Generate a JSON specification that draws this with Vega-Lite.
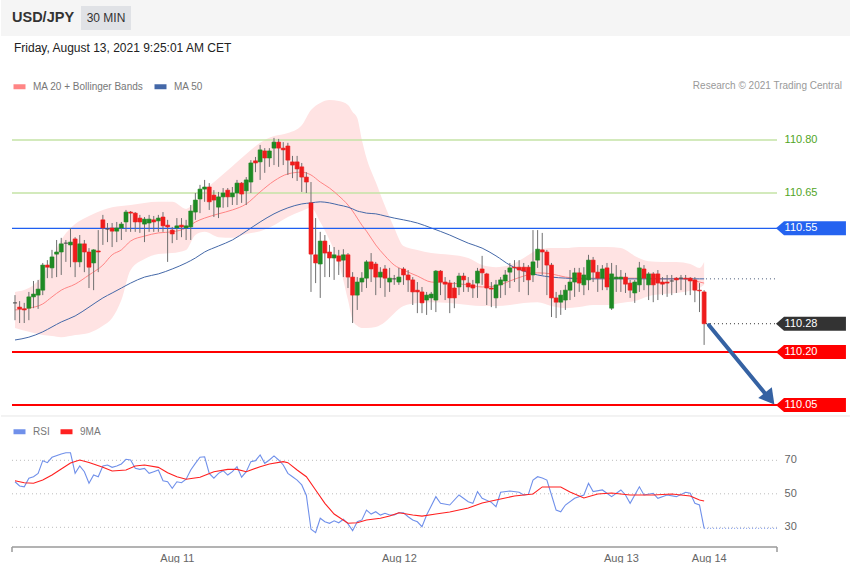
{
"$schema":"https://vega.github.io/schema/vega-lite/v6.json",
"padding":0,
"background":"white",
"spacing":0,
"config":{"view":{"stroke":null},"font":"Liberation Sans","scale":{"continuousPadding":0}},
"resolve":{"scale":{"x":"independent","y":"independent","color":"independent"},"legend":{"color":"independent"}},
"datasets":{
"header":[{"pair":"USD/JPY","tf":"30 MIN"}],
"notes":[{"date":"Friday, August 13, 2021 9:25:01 AM CET","credit":"Research © 2021 Trading Central"}],
"one":[{}],
"levels":[{"level":110.80,"kind":"resistance"},{"level":110.65,"kind":"resistance"},{"level":110.55,"kind":"pivot"},{"level":110.28,"kind":"last"},{"level":110.20,"kind":"support"},{"level":110.05,"kind":"support"},{"level":110.407,"kind":"ma"}],
"rsiLevels":[{"level":70},{"level":50},{"level":30}],
"candles":[
{"i":0,"o":110.339,"h":110.361,"l":110.290,"c":110.339},
{"i":1,"o":110.327,"h":110.344,"l":110.282,"c":110.322},
{"i":2,"o":110.322,"h":110.339,"l":110.282,"c":110.319},
{"i":3,"o":110.324,"h":110.370,"l":110.290,"c":110.356},
{"i":4,"o":110.356,"h":110.401,"l":110.324,"c":110.364},
{"i":5,"o":110.361,"h":110.404,"l":110.322,"c":110.378},
{"i":6,"o":110.375,"h":110.452,"l":110.361,"c":110.446},
{"i":7,"o":110.446,"h":110.460,"l":110.409,"c":110.440},
{"i":8,"o":110.438,"h":110.489,"l":110.409,"c":110.469},
{"i":9,"o":110.477,"h":110.517,"l":110.412,"c":110.483},
{"i":10,"o":110.483,"h":110.523,"l":110.418,"c":110.506},
{"i":11,"o":110.508,"h":110.517,"l":110.455,"c":110.508},
{"i":12,"o":110.503,"h":110.551,"l":110.440,"c":110.511},
{"i":13,"o":110.520,"h":110.525,"l":110.412,"c":110.455},
{"i":14,"o":110.455,"h":110.531,"l":110.440,"c":110.506},
{"i":15,"o":110.506,"h":110.517,"l":110.426,"c":110.483},
{"i":16,"o":110.483,"h":110.494,"l":110.381,"c":110.440},
{"i":17,"o":110.452,"h":110.491,"l":110.375,"c":110.489},
{"i":18,"o":110.486,"h":110.545,"l":110.426,"c":110.483},
{"i":19,"o":110.574,"h":110.588,"l":110.503,"c":110.551},
{"i":20,"o":110.548,"h":110.565,"l":110.511,"c":110.548},
{"i":21,"o":110.551,"h":110.565,"l":110.497,"c":110.542},
{"i":22,"o":110.542,"h":110.568,"l":110.511,"c":110.551},
{"i":23,"o":110.551,"h":110.568,"l":110.517,"c":110.562},
{"i":24,"o":110.568,"h":110.602,"l":110.540,"c":110.596},
{"i":25,"o":110.596,"h":110.599,"l":110.540,"c":110.593},
{"i":26,"o":110.593,"h":110.596,"l":110.540,"c":110.568},
{"i":27,"o":110.579,"h":110.588,"l":110.537,"c":110.568},
{"i":28,"o":110.562,"h":110.582,"l":110.511,"c":110.576},
{"i":29,"o":110.565,"h":110.588,"l":110.540,"c":110.576},
{"i":30,"o":110.574,"h":110.585,"l":110.540,"c":110.568},
{"i":31,"o":110.571,"h":110.588,"l":110.540,"c":110.579},
{"i":32,"o":110.582,"h":110.596,"l":110.540,"c":110.557},
{"i":33,"o":110.559,"h":110.574,"l":110.455,"c":110.554},
{"i":34,"o":110.545,"h":110.554,"l":110.508,"c":110.534},
{"i":35,"o":110.551,"h":110.579,"l":110.517,"c":110.557},
{"i":36,"o":110.559,"h":110.579,"l":110.525,"c":110.554},
{"i":37,"o":110.551,"h":110.574,"l":110.517,"c":110.557},
{"i":38,"o":110.554,"h":110.616,"l":110.517,"c":110.599},
{"i":39,"o":110.596,"h":110.650,"l":110.574,"c":110.630},
{"i":40,"o":110.633,"h":110.673,"l":110.593,"c":110.661},
{"i":41,"o":110.661,"h":110.687,"l":110.625,"c":110.667},
{"i":42,"o":110.667,"h":110.678,"l":110.602,"c":110.625},
{"i":43,"o":110.644,"h":110.658,"l":110.582,"c":110.630},
{"i":44,"o":110.610,"h":110.653,"l":110.579,"c":110.639},
{"i":45,"o":110.639,"h":110.664,"l":110.608,"c":110.650},
{"i":46,"o":110.658,"h":110.664,"l":110.610,"c":110.639},
{"i":47,"o":110.639,"h":110.667,"l":110.616,"c":110.650},
{"i":48,"o":110.650,"h":110.687,"l":110.616,"c":110.678},
{"i":49,"o":110.678,"h":110.681,"l":110.622,"c":110.647},
{"i":50,"o":110.656,"h":110.695,"l":110.616,"c":110.687},
{"i":51,"o":110.681,"h":110.743,"l":110.650,"c":110.735},
{"i":52,"o":110.741,"h":110.752,"l":110.709,"c":110.735},
{"i":53,"o":110.738,"h":110.786,"l":110.687,"c":110.772},
{"i":54,"o":110.769,"h":110.777,"l":110.707,"c":110.749},
{"i":55,"o":110.749,"h":110.777,"l":110.724,"c":110.769},
{"i":56,"o":110.777,"h":110.806,"l":110.729,"c":110.794},
{"i":57,"o":110.794,"h":110.803,"l":110.724,"c":110.777},
{"i":58,"o":110.777,"h":110.794,"l":110.729,"c":110.772},
{"i":59,"o":110.783,"h":110.792,"l":110.701,"c":110.743},
{"i":60,"o":110.738,"h":110.755,"l":110.692,"c":110.729},
{"i":61,"o":110.738,"h":110.755,"l":110.684,"c":110.718},
{"i":62,"o":110.724,"h":110.735,"l":110.653,"c":110.695},
{"i":63,"o":110.695,"h":110.709,"l":110.650,"c":110.681},
{"i":64,"o":110.622,"h":110.681,"l":110.370,"c":110.477},
{"i":65,"o":110.475,"h":110.579,"l":110.395,"c":110.452},
{"i":66,"o":110.449,"h":110.540,"l":110.353,"c":110.514},
{"i":67,"o":110.514,"h":110.531,"l":110.412,"c":110.480},
{"i":68,"o":110.483,"h":110.503,"l":110.412,"c":110.466},
{"i":69,"o":110.466,"h":110.497,"l":110.404,"c":110.475},
{"i":70,"o":110.472,"h":110.489,"l":110.418,"c":110.457},
{"i":71,"o":110.460,"h":110.491,"l":110.412,"c":110.475},
{"i":72,"o":110.475,"h":110.480,"l":110.381,"c":110.412},
{"i":73,"o":110.412,"h":110.426,"l":110.282,"c":110.361},
{"i":74,"o":110.361,"h":110.412,"l":110.319,"c":110.398},
{"i":75,"o":110.398,"h":110.426,"l":110.370,"c":110.409},
{"i":76,"o":110.409,"h":110.460,"l":110.381,"c":110.455},
{"i":77,"o":110.455,"h":110.480,"l":110.398,"c":110.435},
{"i":78,"o":110.449,"h":110.455,"l":110.361,"c":110.412},
{"i":79,"o":110.412,"h":110.440,"l":110.381,"c":110.426},
{"i":80,"o":110.435,"h":110.446,"l":110.356,"c":110.409},
{"i":81,"o":110.398,"h":110.438,"l":110.370,"c":110.409},
{"i":82,"o":110.407,"h":110.418,"l":110.390,"c":110.407},
{"i":83,"o":110.398,"h":110.438,"l":110.390,"c":110.412},
{"i":84,"o":110.435,"h":110.440,"l":110.390,"c":110.418},
{"i":85,"o":110.418,"h":110.432,"l":110.370,"c":110.404},
{"i":86,"o":110.404,"h":110.412,"l":110.333,"c":110.370},
{"i":87,"o":110.375,"h":110.398,"l":110.310,"c":110.370},
{"i":88,"o":110.370,"h":110.384,"l":110.310,"c":110.339},
{"i":89,"o":110.347,"h":110.370,"l":110.305,"c":110.361},
{"i":90,"o":110.353,"h":110.370,"l":110.319,"c":110.364},
{"i":91,"o":110.347,"h":110.432,"l":110.313,"c":110.429},
{"i":92,"o":110.429,"h":110.432,"l":110.361,"c":110.398},
{"i":93,"o":110.398,"h":110.412,"l":110.347,"c":110.392},
{"i":94,"o":110.395,"h":110.404,"l":110.310,"c":110.353},
{"i":95,"o":110.381,"h":110.398,"l":110.324,"c":110.353},
{"i":96,"o":110.384,"h":110.424,"l":110.361,"c":110.415},
{"i":97,"o":110.415,"h":110.424,"l":110.370,"c":110.404},
{"i":98,"o":110.395,"h":110.412,"l":110.370,"c":110.384},
{"i":99,"o":110.390,"h":110.404,"l":110.353,"c":110.381},
{"i":100,"o":110.395,"h":110.438,"l":110.353,"c":110.429},
{"i":101,"o":110.435,"h":110.472,"l":110.390,"c":110.424},
{"i":102,"o":110.421,"h":110.424,"l":110.333,"c":110.381},
{"i":103,"o":110.381,"h":110.398,"l":110.327,"c":110.378},
{"i":104,"o":110.353,"h":110.404,"l":110.324,"c":110.390},
{"i":105,"o":110.390,"h":110.412,"l":110.353,"c":110.404},
{"i":106,"o":110.401,"h":110.432,"l":110.361,"c":110.418},
{"i":107,"o":110.426,"h":110.452,"l":110.381,"c":110.438},
{"i":108,"o":110.440,"h":110.460,"l":110.398,"c":110.438},
{"i":109,"o":110.440,"h":110.460,"l":110.370,"c":110.432},
{"i":110,"o":110.440,"h":110.452,"l":110.398,"c":110.429},
{"i":111,"o":110.440,"h":110.446,"l":110.361,"c":110.404},
{"i":112,"o":110.418,"h":110.545,"l":110.398,"c":110.455},
{"i":113,"o":110.460,"h":110.545,"l":110.438,"c":110.491},
{"i":114,"o":110.489,"h":110.537,"l":110.418,"c":110.483},
{"i":115,"o":110.483,"h":110.489,"l":110.361,"c":110.446},
{"i":116,"o":110.446,"h":110.452,"l":110.299,"c":110.353},
{"i":117,"o":110.353,"h":110.370,"l":110.296,"c":110.341},
{"i":118,"o":110.341,"h":110.375,"l":110.305,"c":110.361},
{"i":119,"o":110.347,"h":110.390,"l":110.319,"c":110.375},
{"i":120,"o":110.375,"h":110.432,"l":110.347,"c":110.398},
{"i":121,"o":110.398,"h":110.438,"l":110.356,"c":110.424},
{"i":122,"o":110.424,"h":110.438,"l":110.370,"c":110.395},
{"i":123,"o":110.390,"h":110.440,"l":110.361,"c":110.418},
{"i":124,"o":110.404,"h":110.475,"l":110.375,"c":110.460},
{"i":125,"o":110.460,"h":110.469,"l":110.398,"c":110.426},
{"i":126,"o":110.426,"h":110.446,"l":110.370,"c":110.409},
{"i":127,"o":110.409,"h":110.446,"l":110.375,"c":110.435},
{"i":128,"o":110.438,"h":110.452,"l":110.375,"c":110.384},
{"i":129,"o":110.324,"h":110.452,"l":110.319,"c":110.421},
{"i":130,"o":110.407,"h":110.446,"l":110.370,"c":110.412},
{"i":131,"o":110.407,"h":110.432,"l":110.370,"c":110.412},
{"i":132,"o":110.412,"h":110.424,"l":110.367,"c":110.392},
{"i":133,"o":110.395,"h":110.404,"l":110.353,"c":110.375},
{"i":134,"o":110.367,"h":110.404,"l":110.339,"c":110.398},
{"i":135,"o":110.390,"h":110.455,"l":110.370,"c":110.438},
{"i":136,"o":110.435,"h":110.446,"l":110.375,"c":110.409},
{"i":137,"o":110.390,"h":110.426,"l":110.347,"c":110.421},
{"i":138,"o":110.421,"h":110.426,"l":110.341,"c":110.390},
{"i":139,"o":110.421,"h":110.432,"l":110.347,"c":110.395},
{"i":140,"o":110.398,"h":110.412,"l":110.361,"c":110.392},
{"i":141,"o":110.398,"h":110.418,"l":110.356,"c":110.395},
{"i":142,"o":110.401,"h":110.418,"l":110.361,"c":110.401},
{"i":143,"o":110.409,"h":110.412,"l":110.367,"c":110.404},
{"i":144,"o":110.409,"h":110.418,"l":110.375,"c":110.409},
{"i":145,"o":110.409,"h":110.418,"l":110.361,"c":110.407},
{"i":146,"o":110.409,"h":110.412,"l":110.361,"c":110.401},
{"i":147,"o":110.404,"h":110.412,"l":110.341,"c":110.375},
{"i":148,"o":110.375,"h":110.395,"l":110.313,"c":110.373},
{"i":149,"o":110.370,"h":110.375,"l":110.220,"c":110.280}
],
"bands":[
{"i":0,"upper":110.370,"lower":110.268,"ma20":110.319,"ma50":110.234},
{"i":3,"upper":110.381,"lower":110.257,"ma20":110.324,"ma50":110.242},
{"i":6,"upper":110.418,"lower":110.248,"ma20":110.336,"ma50":110.257},
{"i":8,"upper":110.466,"lower":110.245,"ma20":110.356,"ma50":110.271},
{"i":10,"upper":110.517,"lower":110.242,"ma20":110.375,"ma50":110.285},
{"i":13,"upper":110.562,"lower":110.248,"ma20":110.392,"ma50":110.302},
{"i":16,"upper":110.585,"lower":110.254,"ma20":110.418,"ma50":110.327},
{"i":19,"upper":110.602,"lower":110.274,"ma20":110.446,"ma50":110.353},
{"i":21,"upper":110.610,"lower":110.296,"ma20":110.475,"ma50":110.367},
{"i":23,"upper":110.613,"lower":110.347,"ma20":110.489,"ma50":110.381},
{"i":25,"upper":110.616,"lower":110.432,"ma20":110.514,"ma50":110.395},
{"i":28,"upper":110.622,"lower":110.463,"ma20":110.528,"ma50":110.412},
{"i":31,"upper":110.625,"lower":110.477,"ma20":110.537,"ma50":110.421},
{"i":34,"upper":110.625,"lower":110.480,"ma20":110.540,"ma50":110.435},
{"i":37,"upper":110.605,"lower":110.489,"ma20":110.551,"ma50":110.452},
{"i":39,"upper":110.627,"lower":110.531,"ma20":110.568,"ma50":110.466},
{"i":41,"upper":110.658,"lower":110.540,"ma20":110.579,"ma50":110.483},
{"i":44,"upper":110.692,"lower":110.525,"ma20":110.591,"ma50":110.500},
{"i":47,"upper":110.726,"lower":110.523,"ma20":110.602,"ma50":110.517},
{"i":50,"upper":110.760,"lower":110.534,"ma20":110.619,"ma50":110.542},
{"i":53,"upper":110.792,"lower":110.542,"ma20":110.653,"ma50":110.568},
{"i":56,"upper":110.811,"lower":110.559,"ma20":110.684,"ma50":110.591},
{"i":59,"upper":110.820,"lower":110.582,"ma20":110.704,"ma50":110.608},
{"i":62,"upper":110.842,"lower":110.599,"ma20":110.709,"ma50":110.619},
{"i":64,"upper":110.885,"lower":110.608,"ma20":110.701,"ma50":110.622},
{"i":66,"upper":110.905,"lower":110.568,"ma20":110.681,"ma50":110.625},
{"i":68,"upper":110.913,"lower":110.517,"ma20":110.664,"ma50":110.622},
{"i":70,"upper":110.910,"lower":110.452,"ma20":110.642,"ma50":110.616},
{"i":72,"upper":110.899,"lower":110.347,"ma20":110.616,"ma50":110.610},
{"i":73,"upper":110.879,"lower":110.290,"ma20":110.599,"ma50":110.605},
{"i":74,"upper":110.862,"lower":110.274,"ma20":110.579,"ma50":110.599},
{"i":75,"upper":110.800,"lower":110.268,"ma20":110.559,"ma50":110.596},
{"i":76,"upper":110.749,"lower":110.268,"ma20":110.542,"ma50":110.593},
{"i":78,"upper":110.681,"lower":110.271,"ma20":110.503,"ma50":110.591},
{"i":80,"upper":110.613,"lower":110.285,"ma20":110.472,"ma50":110.585},
{"i":82,"upper":110.551,"lower":110.310,"ma20":110.446,"ma50":110.579},
{"i":84,"upper":110.500,"lower":110.330,"ma20":110.432,"ma50":110.574},
{"i":87,"upper":110.489,"lower":110.339,"ma20":110.415,"ma50":110.565},
{"i":90,"upper":110.480,"lower":110.341,"ma20":110.398,"ma50":110.551},
{"i":94,"upper":110.475,"lower":110.339,"ma20":110.395,"ma50":110.531},
{"i":98,"upper":110.466,"lower":110.333,"ma20":110.390,"ma50":110.508},
{"i":101,"upper":110.446,"lower":110.330,"ma20":110.384,"ma50":110.494},
{"i":104,"upper":110.440,"lower":110.330,"ma20":110.387,"ma50":110.472},
{"i":107,"upper":110.446,"lower":110.333,"ma20":110.401,"ma50":110.446},
{"i":110,"upper":110.466,"lower":110.339,"ma20":110.415,"ma50":110.429},
{"i":113,"upper":110.489,"lower":110.341,"ma20":110.424,"ma50":110.418},
{"i":116,"upper":110.494,"lower":110.330,"ma20":110.421,"ma50":110.412},
{"i":119,"upper":110.494,"lower":110.324,"ma20":110.412,"ma50":110.409},
{"i":122,"upper":110.497,"lower":110.327,"ma20":110.409,"ma50":110.407},
{"i":125,"upper":110.497,"lower":110.333,"ma20":110.409,"ma50":110.407},
{"i":128,"upper":110.497,"lower":110.333,"ma20":110.409,"ma50":110.407},
{"i":131,"upper":110.494,"lower":110.339,"ma20":110.409,"ma50":110.407},
{"i":134,"upper":110.472,"lower":110.344,"ma20":110.409,"ma50":110.407},
{"i":137,"upper":110.457,"lower":110.358,"ma20":110.409,"ma50":110.407},
{"i":140,"upper":110.455,"lower":110.364,"ma20":110.407,"ma50":110.407},
{"i":143,"upper":110.455,"lower":110.367,"ma20":110.407,"ma50":110.407},
{"i":146,"upper":110.449,"lower":110.373,"ma20":110.404,"ma50":110.407},
{"i":148,"upper":110.438,"lower":110.381,"ma20":110.398,"ma50":110.407},
{"i":149,"upper":110.455,"lower":110.390,"ma20":110.395,"ma50":110.407}
],
"rsi":[
{"i":0,"series":"rsi","v":57.2},{"i":1,"series":"rsi","v":54.7},{"i":2,"series":"rsi","v":54.2},{"i":3,"series":"rsi","v":59.3},{"i":4,"series":"rsi","v":60.2},{"i":5,"series":"rsi","v":62.2},{"i":6,"series":"rsi","v":69.8},{"i":7,"series":"rsi","v":68.6},{"i":8,"series":"rsi","v":71.8},{"i":10,"series":"rsi","v":73.8},{"i":11,"series":"rsi","v":74.5},{"i":12,"series":"rsi","v":74.5},{"i":13,"series":"rsi","v":62.2},{"i":14,"series":"rsi","v":66.6},{"i":15,"series":"rsi","v":63.2},{"i":16,"series":"rsi","v":56.3},{"i":17,"series":"rsi","v":61.2},{"i":18,"series":"rsi","v":60.2},{"i":19,"series":"rsi","v":66.6},{"i":20,"series":"rsi","v":67.2},{"i":21,"series":"rsi","v":65.8},{"i":22,"series":"rsi","v":66.6},{"i":23,"series":"rsi","v":67.8},{"i":24,"series":"rsi","v":70.6},{"i":25,"series":"rsi","v":70.2},{"i":26,"series":"rsi","v":65.2},{"i":27,"series":"rsi","v":64.6},{"i":28,"series":"rsi","v":65.2},{"i":29,"series":"rsi","v":62.2},{"i":30,"series":"rsi","v":63.2},{"i":31,"series":"rsi","v":64.2},{"i":32,"series":"rsi","v":57.8},{"i":33,"series":"rsi","v":57.2},{"i":34,"series":"rsi","v":53.3},{"i":35,"series":"rsi","v":57.2},{"i":36,"series":"rsi","v":56.6},{"i":37,"series":"rsi","v":58.7},{"i":38,"series":"rsi","v":64.2},{"i":39,"series":"rsi","v":68.2},{"i":40,"series":"rsi","v":71.8},{"i":41,"series":"rsi","v":72.1},{"i":42,"series":"rsi","v":62.2},{"i":43,"series":"rsi","v":59.3},{"i":44,"series":"rsi","v":62.2},{"i":45,"series":"rsi","v":63.8},{"i":46,"series":"rsi","v":61.2},{"i":47,"series":"rsi","v":63.2},{"i":48,"series":"rsi","v":66.2},{"i":49,"series":"rsi","v":59.9},{"i":50,"series":"rsi","v":63.2},{"i":51,"series":"rsi","v":69.2},{"i":52,"series":"rsi","v":69.8},{"i":53,"series":"rsi","v":73.2},{"i":54,"series":"rsi","v":68.2},{"i":55,"series":"rsi","v":70.2},{"i":56,"series":"rsi","v":72.6},{"i":57,"series":"rsi","v":70.2},{"i":58,"series":"rsi","v":67.2},{"i":59,"series":"rsi","v":62.2},{"i":60,"series":"rsi","v":60.2},{"i":61,"series":"rsi","v":58.2},{"i":62,"series":"rsi","v":55.3},{"i":63,"series":"rsi","v":49.0},{"i":64,"series":"rsi","v":28.8},{"i":65,"series":"rsi","v":26.8},{"i":66,"series":"rsi","v":35.4},{"i":67,"series":"rsi","v":33.3},{"i":68,"series":"rsi","v":32.4},{"i":69,"series":"rsi","v":33.9},{"i":70,"series":"rsi","v":32.7},{"i":71,"series":"rsi","v":34.8},{"i":72,"series":"rsi","v":32.0},{"i":73,"series":"rsi","v":28.0},{"i":74,"series":"rsi","v":33.3},{"i":75,"series":"rsi","v":34.4},{"i":76,"series":"rsi","v":40.3},{"i":77,"series":"rsi","v":37.9},{"i":78,"series":"rsi","v":39.3},{"i":79,"series":"rsi","v":37.3},{"i":80,"series":"rsi","v":38.4},{"i":81,"series":"rsi","v":37.3},{"i":82,"series":"rsi","v":37.3},{"i":83,"series":"rsi","v":38.7},{"i":84,"series":"rsi","v":38.7},{"i":85,"series":"rsi","v":36.3},{"i":86,"series":"rsi","v":34.4},{"i":87,"series":"rsi","v":33.3},{"i":88,"series":"rsi","v":30.4},{"i":89,"series":"rsi","v":37.3},{"i":91,"series":"rsi","v":48.3},{"i":92,"series":"rsi","v":44.3},{"i":94,"series":"rsi","v":43.3},{"i":96,"series":"rsi","v":49.3},{"i":98,"series":"rsi","v":45.3},{"i":99,"series":"rsi","v":44.3},{"i":100,"series":"rsi","v":51.3},{"i":101,"series":"rsi","v":47.3},{"i":103,"series":"rsi","v":44.9},{"i":104,"series":"rsi","v":42.3},{"i":105,"series":"rsi","v":50.9},{"i":107,"series":"rsi","v":51.7},{"i":109,"series":"rsi","v":50.9},{"i":110,"series":"rsi","v":49.3},{"i":111,"series":"rsi","v":49.7},{"i":112,"series":"rsi","v":58.2},{"i":113,"series":"rsi","v":60.2},{"i":114,"series":"rsi","v":59.4},{"i":115,"series":"rsi","v":58.2},{"i":116,"series":"rsi","v":49.3},{"i":117,"series":"rsi","v":40.3},{"i":118,"series":"rsi","v":39.3},{"i":119,"series":"rsi","v":43.3},{"i":121,"series":"rsi","v":47.3},{"i":123,"series":"rsi","v":49.3},{"i":124,"series":"rsi","v":56.3},{"i":125,"series":"rsi","v":51.3},{"i":127,"series":"rsi","v":52.3},{"i":129,"series":"rsi","v":48.3},{"i":131,"series":"rsi","v":52.3},{"i":132,"series":"rsi","v":49.3},{"i":133,"series":"rsi","v":44.3},{"i":135,"series":"rsi","v":54.2},{"i":136,"series":"rsi","v":49.3},{"i":138,"series":"rsi","v":50.3},{"i":139,"series":"rsi","v":47.3},{"i":141,"series":"rsi","v":49.3},{"i":143,"series":"rsi","v":48.3},{"i":145,"series":"rsi","v":50.9},{"i":146,"series":"rsi","v":50.3},{"i":147,"series":"rsi","v":44.3},{"i":148,"series":"rsi","v":43.3},{"i":149,"series":"rsi","v":29.4},
{"i":0,"series":"ma9","v":57.8},{"i":2,"series":"ma9","v":56.6},{"i":4,"series":"ma9","v":56.3},{"i":6,"series":"ma9","v":58.2},{"i":8,"series":"ma9","v":61.2},{"i":10,"series":"ma9","v":64.8},{"i":12,"series":"ma9","v":68.4},{"i":14,"series":"ma9","v":70.2},{"i":16,"series":"ma9","v":68.7},{"i":19,"series":"ma9","v":65.8},{"i":21,"series":"ma9","v":63.6},{"i":24,"series":"ma9","v":64.2},{"i":26,"series":"ma9","v":66.6},{"i":28,"series":"ma9","v":67.2},{"i":31,"series":"ma9","v":65.8},{"i":33,"series":"ma9","v":62.6},{"i":35,"series":"ma9","v":60.2},{"i":37,"series":"ma9","v":58.7},{"i":40,"series":"ma9","v":59.9},{"i":43,"series":"ma9","v":63.2},{"i":46,"series":"ma9","v":64.6},{"i":48,"series":"ma9","v":64.6},{"i":50,"series":"ma9","v":63.2},{"i":53,"series":"ma9","v":66.2},{"i":55,"series":"ma9","v":67.8},{"i":58,"series":"ma9","v":69.2},{"i":59,"series":"ma9","v":68.6},{"i":61,"series":"ma9","v":64.2},{"i":63,"series":"ma9","v":60.2},{"i":65,"series":"ma9","v":52.3},{"i":67,"series":"ma9","v":44.3},{"i":69,"series":"ma9","v":37.9},{"i":72,"series":"ma9","v":32.4},{"i":74,"series":"ma9","v":32.7},{"i":76,"series":"ma9","v":34.4},{"i":79,"series":"ma9","v":35.4},{"i":81,"series":"ma9","v":36.7},{"i":83,"series":"ma9","v":38.7},{"i":86,"series":"ma9","v":37.3},{"i":88,"series":"ma9","v":36.7},{"i":91,"series":"ma9","v":37.9},{"i":94,"series":"ma9","v":39.1},{"i":98,"series":"ma9","v":41.5},{"i":101,"series":"ma9","v":44.5},{"i":105,"series":"ma9","v":46.9},{"i":108,"series":"ma9","v":48.7},{"i":112,"series":"ma9","v":49.9},{"i":114,"series":"ma9","v":54.1},{"i":118,"series":"ma9","v":54.1},{"i":120,"series":"ma9","v":51.1},{"i":123,"series":"ma9","v":47.5},{"i":126,"series":"ma9","v":49.9},{"i":129,"series":"ma9","v":50.5},{"i":133,"series":"ma9","v":49.3},{"i":138,"series":"ma9","v":49.3},{"i":142,"series":"ma9","v":49.9},{"i":146,"series":"ma9","v":48.7},{"i":148,"series":"ma9","v":46.3},{"i":149,"series":"ma9","v":45.7}
]
},
"vconcat":[
{
"width":850,"height":36,
"view":{"fill":"#f5f5f5","stroke":null},
"data":{"name":"header"},
"layer":[
{"mark":{"type":"point","shape":"M-1,-0.48H1V0.48H-1Z","size":2500,"filled":true,"fill":"#e0e2e6","strokeWidth":0,"opacity":1},
 "encoding":{"x":{"datum":19.68,"type":"quantitative","scale":{"domain":[-3.027,180.757],"nice":false,"zero":false,"padding":0},"axis":null}}},
{"mark":{"type":"text","align":"left","baseline":"middle","fontSize":14.5,"fontWeight":"bold","color":"#333333"},
 "encoding":{"x":{"datum":-0.649,"type":"quantitative","scale":{"domain":[-3.027,180.757],"nice":false,"zero":false,"padding":0},"axis":null},"text":{"field":"pair"}}},
{"mark":{"type":"text","align":"center","baseline":"middle","fontSize":12,"color":"#333333"},
 "encoding":{"x":{"datum":19.68,"type":"quantitative","scale":{"domain":[-3.027,180.757],"nice":false,"zero":false,"padding":0},"axis":null},"text":{"field":"tf"}}}
]
},
{
"width":850,"height":379,
"layer":[
{"data":{"name":"bands"},
 "mark":{"type":"area","interpolate":"monotone","color":"#ffe3e3","opacity":1},
 "encoding":{"x":{"field":"i","type":"quantitative","scale":{"domain":[-3.027,180.757],"nice":false,"zero":false,"padding":0},"axis":null},
  "y":{"field":"lower","type":"quantitative","scale":{"domain":[110.0217,111.0943],"nice":false,"zero":false,"padding":0},"axis":null},
  "y2":{"field":"upper"}}},
{"data":{"name":"levels"},"transform":[{"filter":"datum.kind == 'resistance'"}],
 "mark":{"type":"rule","color":"#c4e3a6","strokeWidth":1.5},
 "encoding":{"x":{"datum":-0.649,"type":"quantitative","scale":{"domain":[-3.027,180.757],"nice":false,"zero":false,"padding":0},"axis":null},"x2":{"datum":164.757},
  "y":{"field":"level","type":"quantitative","scale":{"domain":[110.0217,111.0943],"nice":false,"zero":false,"padding":0},"axis":null}}},
{"data":{"name":"bands"},"transform":[{"fold":["ma20","ma50"],"as":["series","v"]}],
 "mark":{"type":"line","interpolate":"monotone","strokeWidth":1},
 "encoding":{"x":{"field":"i","type":"quantitative","scale":{"domain":[-3.027,180.757],"nice":false,"zero":false,"padding":0},"axis":null},
  "y":{"field":"v","type":"quantitative","scale":{"domain":[110.0217,111.0943],"nice":false,"zero":false,"padding":0},"axis":null},
  "color":{"field":"series","type":"nominal","scale":{"domain":["ma20","ma50"],"range":["#ff8585","#4468a8"]},
   "legend":{"title":null,"orient":"none","legendX":10,"legendY":42,"direction":"horizontal","symbolType":"stroke","symbolSize":144,"symbolStrokeWidth":5,"labelFontSize":10,"labelColor":"#777777","labelOffset":5,"columnPadding":0,"padding":0,"labelExpr":"datum.value == 'ma20' ? 'MA 20 + Bollinger Bands' : 'MA 50'"}}}},
{"data":{"name":"levels"},"transform":[{"filter":"datum.kind == 'pivot'"}],
 "mark":{"type":"rule","color":"#1f5ff0","strokeWidth":1.2},
 "encoding":{"x":{"datum":-0.649,"type":"quantitative","scale":{"domain":[-3.027,180.757],"nice":false,"zero":false,"padding":0},"axis":null},"x2":{"datum":164.757},
  "y":{"field":"level","type":"quantitative","scale":{"domain":[110.0217,111.0943],"nice":false,"zero":false,"padding":0},"axis":null}}},
{"data":{"name":"levels"},"transform":[{"filter":"datum.kind == 'support'"}],
 "mark":{"type":"rule","color":"#ff0000","strokeWidth":2},
 "encoding":{"x":{"datum":-0.649,"type":"quantitative","scale":{"domain":[-3.027,180.757],"nice":false,"zero":false,"padding":0},"axis":null},"x2":{"datum":164.757},
  "y":{"field":"level","type":"quantitative","scale":{"domain":[110.0217,111.0943],"nice":false,"zero":false,"padding":0},"axis":null}}},
{"data":{"name":"candles"},
 "mark":{"type":"rule","color":"#707070","strokeWidth":1},
 "encoding":{"x":{"field":"i","type":"quantitative","scale":{"domain":[-3.027,180.757],"nice":false,"zero":false,"padding":0},"axis":null},
  "y":{"field":"l","type":"quantitative","scale":{"domain":[110.0217,111.0943],"nice":false,"zero":false,"padding":0},"axis":null},
  "y2":{"field":"h"}}},
{"data":{"name":"candles"},
 "mark":{"type":"bar","size":4,"strokeWidth":0.6},
 "encoding":{"x":{"field":"i","type":"quantitative","scale":{"domain":[-3.027,180.757],"nice":false,"zero":false,"padding":0},"axis":null},
  "y":{"field":"o","type":"quantitative","scale":{"domain":[110.0217,111.0943],"nice":false,"zero":false,"padding":0},"axis":null},
  "y2":{"field":"c"},
  "color":{"condition":[{"test":"datum.c > datum.o","value":"#1f8a24"},{"test":"datum.c < datum.o","value":"#ee1c1c"}],"value":"#444444"},
  "stroke":{"condition":[{"test":"datum.c > datum.o","value":"#1f8a24"},{"test":"datum.c < datum.o","value":"#ee1c1c"}],"value":"#444444"}}},
{"data":{"name":"levels"},"transform":[{"filter":"datum.kind == 'last'"}],
 "mark":{"type":"rule","color":"#333333","strokeWidth":1,"strokeDash":[1,3]},
 "encoding":{"x":{"datum":149.4,"type":"quantitative","scale":{"domain":[-3.027,180.757],"nice":false,"zero":false,"padding":0},"axis":null},"x2":{"datum":164.757},
  "y":{"field":"level","type":"quantitative","scale":{"domain":[110.0217,111.0943],"nice":false,"zero":false,"padding":0},"axis":null}}},
{"data":{"name":"levels"},"transform":[{"filter":"datum.kind == 'ma'"}],
 "mark":{"type":"rule","color":"#4a5a7a","strokeWidth":1,"strokeDash":[1,3]},
 "encoding":{"x":{"datum":149.4,"type":"quantitative","scale":{"domain":[-3.027,180.757],"nice":false,"zero":false,"padding":0},"axis":null},"x2":{"datum":164.757},
  "y":{"field":"level","type":"quantitative","scale":{"domain":[110.0217,111.0943],"nice":false,"zero":false,"padding":0},"axis":null}}},
{"data":{"name":"levels"},"transform":[{"filter":"datum.kind == 'pivot' || datum.kind == 'last' || datum.kind == 'support'"}],
 "mark":{"type":"point","shape":"M-1,0L-0.77,-0.2H1V0.2H-0.77Z","size":4900,"filled":true,"strokeWidth":0,"opacity":1},
 "encoding":{"x":{"datum":172.1,"type":"quantitative","scale":{"domain":[-3.027,180.757],"nice":false,"zero":false,"padding":0},"axis":null},
  "y":{"field":"level","type":"quantitative","scale":{"domain":[110.0217,111.0943],"nice":false,"zero":false,"padding":0},"axis":null},
  "color":{"condition":[{"test":"datum.kind == 'pivot'","value":"#2563f0"},{"test":"datum.kind == 'last'","value":"#333333"}],"value":"#ff0000"}}},
{"data":{"name":"levels"},"transform":[{"filter":"datum.kind == 'pivot' || datum.kind == 'last' || datum.kind == 'support'"}],
 "mark":{"type":"text","align":"left","baseline":"middle","fontSize":11,"color":"#ffffff"},
 "encoding":{"x":{"datum":166.4,"type":"quantitative","scale":{"domain":[-3.027,180.757],"nice":false,"zero":false,"padding":0},"axis":null},
  "y":{"field":"level","type":"quantitative","scale":{"domain":[110.0217,111.0943],"nice":false,"zero":false,"padding":0},"axis":null},
  "text":{"field":"level","type":"quantitative","format":".2f"}}},
{"data":{"name":"levels"},"transform":[{"filter":"datum.kind == 'resistance'"}],
 "mark":{"type":"text","align":"left","baseline":"middle","fontSize":11,"color":"#52a526"},
 "encoding":{"x":{"datum":166.4,"type":"quantitative","scale":{"domain":[-3.027,180.757],"nice":false,"zero":false,"padding":0},"axis":null},
  "y":{"field":"level","type":"quantitative","scale":{"domain":[110.0217,111.0943],"nice":false,"zero":false,"padding":0},"axis":null},
  "text":{"field":"level","type":"quantitative","format":".2f"}}},
{"data":{"name":"one"},
 "mark":{"type":"rule","color":"#3562a3","strokeWidth":4,"strokeCap":"round"},
 "encoding":{"x":{"datum":150.05,"type":"quantitative","scale":{"domain":[-3.027,180.757],"nice":false,"zero":false,"padding":0},"axis":null},"x2":{"datum":162.4},
  "y":{"datum":110.276,"type":"quantitative","scale":{"domain":[110.0217,111.0943],"nice":false,"zero":false,"padding":0},"axis":null},"y2":{"datum":110.079}}},
{"data":{"name":"one"},
 "mark":{"type":"point","shape":"triangle-up","size":300,"filled":true,"color":"#3562a3","opacity":1,"angle":141.5},
 "encoding":{"x":{"datum":163.18,"type":"quantitative","scale":{"domain":[-3.027,180.757],"nice":false,"zero":false,"padding":0},"axis":null},
  "y":{"datum":110.0682,"type":"quantitative","scale":{"domain":[110.0217,111.0943],"nice":false,"zero":false,"padding":0},"axis":null}}},
{"data":{"name":"notes"},
 "mark":{"type":"text","align":"left","baseline":"middle","fontSize":12,"color":"#222222"},
 "encoding":{"x":{"datum":-0.216,"type":"quantitative","scale":{"domain":[-3.027,180.757],"nice":false,"zero":false,"padding":0},"axis":null},
  "y":{"datum":111.0604,"type":"quantitative","scale":{"domain":[110.0217,111.0943],"nice":false,"zero":false,"padding":0},"axis":null},
  "text":{"field":"date"}}},
{"data":{"name":"notes"},
 "mark":{"type":"text","align":"right","baseline":"middle","fontSize":10,"color":"#999999"},
 "encoding":{"x":{"datum":178.81,"type":"quantitative","scale":{"domain":[-3.027,180.757],"nice":false,"zero":false,"padding":0},"axis":null},
  "y":{"datum":110.9528,"type":"quantitative","scale":{"domain":[110.0217,111.0943],"nice":false,"zero":false,"padding":0},"axis":null},
  "text":{"field":"credit"}}}
]
},
{
"width":850,"height":132,
"layer":[
{"data":{"name":"one"},
 "mark":{"type":"rule","color":"#e6e6e6","strokeWidth":1},
 "encoding":{"x":{"datum":-3.027,"type":"quantitative","scale":{"domain":[-3.027,180.757],"nice":false,"zero":false,"padding":0},"axis":{"values":[35,83,131,150],"labelExpr":"datum.value == 35 ? 'Aug 11' : datum.value == 83 ? 'Aug 12' : datum.value == 131 ? 'Aug 13' : 'Aug 14'","domain":false,"ticks":false,"grid":false,"labelPadding":5,"labelFontSize":11,"labelColor":"#666666","labelFlush":false,"labelOverlap":false,"title":null}},"x2":{"datum":180.757},
  "y":{"datum":96.45,"type":"quantitative","scale":{"domain":[18.239,97.045],"nice":false,"zero":false,"padding":0},"axis":null}}},
{"data":{"name":"rsiLevels"},
 "mark":{"type":"rule","color":"#bbbbbb","strokeWidth":1,"strokeDash":[1,3]},
 "encoding":{"x":{"datum":-0.649,"type":"quantitative","scale":{"domain":[-3.027,180.757],"nice":false,"zero":false,"padding":0},"axis":{"values":[35,83,131,150],"labelExpr":"datum.value == 35 ? 'Aug 11' : datum.value == 83 ? 'Aug 12' : datum.value == 131 ? 'Aug 13' : 'Aug 14'","domain":false,"ticks":false,"grid":false,"labelPadding":5,"labelFontSize":11,"labelColor":"#666666","labelFlush":false,"labelOverlap":false,"title":null}},"x2":{"datum":164.757},
  "y":{"field":"level","type":"quantitative","scale":{"domain":[18.239,97.045],"nice":false,"zero":false,"padding":0},"axis":null}}},
{"data":{"name":"rsiLevels"},
 "mark":{"type":"text","align":"left","baseline":"middle","fontSize":11,"color":"#666666"},
 "encoding":{"x":{"datum":166.4,"type":"quantitative","scale":{"domain":[-3.027,180.757],"nice":false,"zero":false,"padding":0},"axis":{"values":[35,83,131,150],"labelExpr":"datum.value == 35 ? 'Aug 11' : datum.value == 83 ? 'Aug 12' : datum.value == 131 ? 'Aug 13' : 'Aug 14'","domain":false,"ticks":false,"grid":false,"labelPadding":5,"labelFontSize":11,"labelColor":"#666666","labelFlush":false,"labelOverlap":false,"title":null}},
  "y":{"field":"level","type":"quantitative","scale":{"domain":[18.239,97.045],"nice":false,"zero":false,"padding":0},"axis":null},
  "text":{"field":"level","type":"quantitative"}}},
{"data":{"name":"rsi"},
 "mark":{"type":"line","strokeWidth":1.1},
 "encoding":{"x":{"field":"i","type":"quantitative","scale":{"domain":[-3.027,180.757],"nice":false,"zero":false,"padding":0},"axis":{"values":[35,83,131,150],"labelExpr":"datum.value == 35 ? 'Aug 11' : datum.value == 83 ? 'Aug 12' : datum.value == 131 ? 'Aug 13' : 'Aug 14'","domain":false,"ticks":false,"grid":false,"labelPadding":5,"labelFontSize":11,"labelColor":"#666666","labelFlush":false,"labelOverlap":false,"title":null}},
  "y":{"field":"v","type":"quantitative","scale":{"domain":[18.239,97.045],"nice":false,"zero":false,"padding":0},"axis":null},
  "color":{"field":"series","type":"nominal","scale":{"domain":["rsi","ma9"],"range":["#7090ea","#ff2020"]},
   "legend":{"title":null,"orient":"none","legendX":10,"legendY":8,"direction":"horizontal","symbolType":"stroke","symbolSize":144,"symbolStrokeWidth":5,"labelFontSize":10,"labelColor":"#777777","labelOffset":5,"columnPadding":0,"padding":0,"labelExpr":"datum.value == 'rsi' ? 'RSI' : '9MA'"}}}},
{"data":{"name":"one"},
 "mark":{"type":"rule","color":"#7090ea","strokeWidth":1,"strokeDash":[1,2]},
 "encoding":{"x":{"datum":149,"type":"quantitative","scale":{"domain":[-3.027,180.757],"nice":false,"zero":false,"padding":0},"axis":{"values":[35,83,131,150],"labelExpr":"datum.value == 35 ? 'Aug 11' : datum.value == 83 ? 'Aug 12' : datum.value == 131 ? 'Aug 13' : 'Aug 14'","domain":false,"ticks":false,"grid":false,"labelPadding":5,"labelFontSize":11,"labelColor":"#666666","labelFlush":false,"labelOverlap":false,"title":null}},"x2":{"datum":164.757},
  "y":{"datum":29.4,"type":"quantitative","scale":{"domain":[18.239,97.045],"nice":false,"zero":false,"padding":0},"axis":null}}},
{"data":{"name":"one"},
 "mark":{"type":"rule","color":"#9a9a9a","strokeWidth":1.5},
 "encoding":{"x":{"datum":-0.649,"type":"quantitative","scale":{"domain":[-3.027,180.757],"nice":false,"zero":false,"padding":0},"axis":{"values":[35,83,131,150],"labelExpr":"datum.value == 35 ? 'Aug 11' : datum.value == 83 ? 'Aug 12' : datum.value == 131 ? 'Aug 13' : 'Aug 14'","domain":false,"ticks":false,"grid":false,"labelPadding":5,"labelFontSize":11,"labelColor":"#666666","labelFlush":false,"labelOverlap":false,"title":null}},"x2":{"datum":164.757},
  "y":{"datum":18.239,"type":"quantitative","scale":{"domain":[18.239,97.045],"nice":false,"zero":false,"padding":0},"axis":null}}},
{"data":{"name":"one"},
 "mark":{"type":"rule","color":"#9a9a9a","strokeWidth":1.5},
 "encoding":{"x":{"datum":-0.649,"type":"quantitative","scale":{"domain":[-3.027,180.757],"nice":false,"zero":false,"padding":0},"axis":{"values":[35,83,131,150],"labelExpr":"datum.value == 35 ? 'Aug 11' : datum.value == 83 ? 'Aug 12' : datum.value == 131 ? 'Aug 13' : 'Aug 14'","domain":false,"ticks":false,"grid":false,"labelPadding":5,"labelFontSize":11,"labelColor":"#666666","labelFlush":false,"labelOverlap":false,"title":null}},
  "y":{"datum":18.239,"type":"quantitative","scale":{"domain":[18.239,97.045],"nice":false,"zero":false,"padding":0},"axis":null},"y2":{"datum":15.25}}},
{"data":{"name":"one"},
 "mark":{"type":"rule","color":"#9a9a9a","strokeWidth":1.5},
 "encoding":{"x":{"datum":164.757,"type":"quantitative","scale":{"domain":[-3.027,180.757],"nice":false,"zero":false,"padding":0},"axis":{"values":[35,83,131,150],"labelExpr":"datum.value == 35 ? 'Aug 11' : datum.value == 83 ? 'Aug 12' : datum.value == 131 ? 'Aug 13' : 'Aug 14'","domain":false,"ticks":false,"grid":false,"labelPadding":5,"labelFontSize":11,"labelColor":"#666666","labelFlush":false,"labelOverlap":false,"title":null}},
  "y":{"datum":18.239,"type":"quantitative","scale":{"domain":[18.239,97.045],"nice":false,"zero":false,"padding":0},"axis":null},"y2":{"datum":15.25}}}
]
}
]
}
